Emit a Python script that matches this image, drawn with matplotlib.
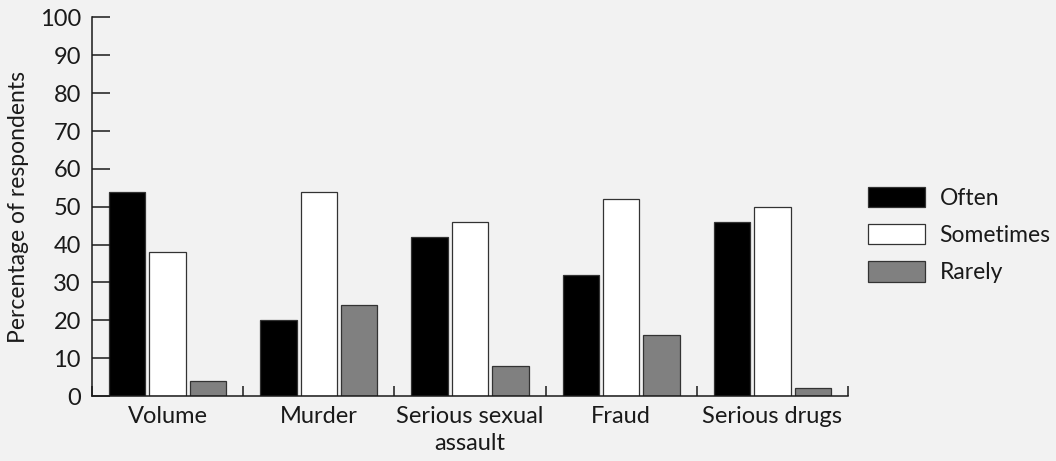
import matplotlib
matplotlib.use("Agg")
import matplotlib.pyplot as plt
import numpy as np
from matplotlib.patches import Patch

categories = ["Volume", "Murder", "Serious sexual\nassault", "Fraud", "Serious drugs"]
series_names = ["Often", "Sometimes", "Rarely"]
often = [54, 20, 42, 32, 46]
sometimes = [38, 54, 46, 52, 50]
rarely = [4, 24, 8, 16, 2]
yticks = [0, 10, 20, 30, 40, 50, 60, 70, 80, 90, 100]

colors = ["#000000", "#ffffff", "#808080"]
bg = "#f2f2f2"
ink = "#1a1a1a"
edge = "#333333"

plt.rcParams['font.family'] = ['Lato', 'DejaVu Sans']

fig = plt.figure(figsize=(10.56, 4.61), dpi=100, facecolor=bg)
ax = fig.add_axes([92/1056, (461-396)/461, (848-92)/1056, (396-17.5)/461])
ax.set_facecolor(bg)

x = np.arange(len(categories)) + 0.5
width = 0.241
step = 0.267
for i, (vals, col, name) in enumerate(zip([often, sometimes, rarely], colors, series_names)):
    ax.bar(x + (i - 1) * step, vals, width, color=col, edgecolor=edge, linewidth=0.9, label=name)

ax.set_xlim(0, len(categories))
ax.set_ylim(0, 100)
ax.set_yticks(yticks)
ax.set_yticklabels([str(t) for t in yticks])
ax.set_xticks(x)
ax.set_xticklabels(categories)
ax.set_xticks(np.arange(len(categories) + 1), minor=True)

for s in ["top", "right"]:
    ax.spines[s].set_visible(False)
for s in ["left", "bottom"]:
    ax.spines[s].set_color(ink)
    ax.spines[s].set_linewidth(1.1)

ax.tick_params(axis='y', direction='in', length=13, width=1.1, color=ink, labelsize=17, labelcolor=ink, pad=8)
ax.tick_params(axis='x', which='major', length=0, labelsize=17, labelcolor=ink, pad=7)
ax.tick_params(axis='x', which='minor', direction='in', length=7, width=1.1, color=ink)
for lab in ax.get_xticklabels():
    lab.set_linespacing(1.35)

ax.set_ylabel("Percentage of respondents", fontsize=16.5, color=ink, labelpad=8)

handles = [Patch(facecolor=c, edgecolor=edge, linewidth=0.9) for c in colors]
fig.legend(handles, series_names, loc='center left', bbox_to_anchor=(868/1056, 1 - 235/461),
           frameon=False, fontsize=16.5, handlelength=2.5, handleheight=1.0,
           labelspacing=0.66, handletextpad=0.62, labelcolor=ink, borderaxespad=0, borderpad=0)

fig.savefig("out.png", dpi=100, facecolor=bg)
